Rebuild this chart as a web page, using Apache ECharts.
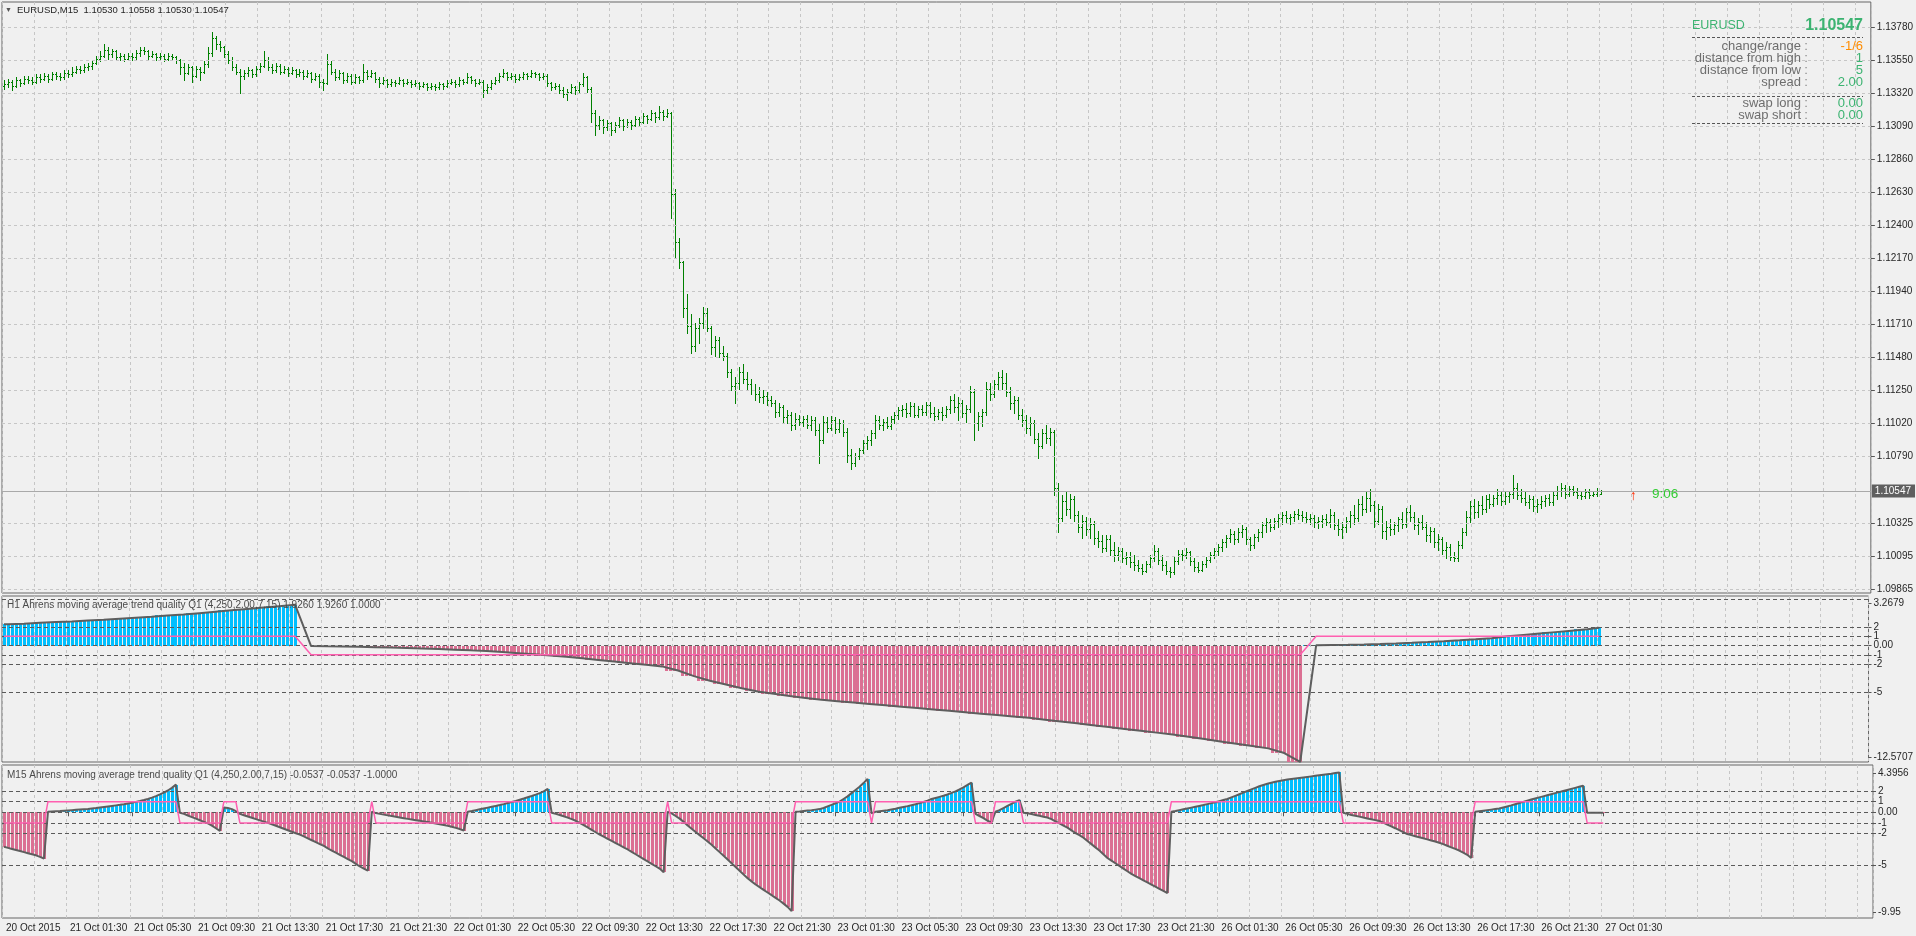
<!DOCTYPE html>
<html><head><meta charset="utf-8">
<script src="https://cdn.jsdelivr.net/npm/echarts@6/dist/echarts.min.js"></script>
<style>html,body{margin:0;padding:0;background:#f0f0f0;overflow:hidden}#c{width:1916px;height:936px}</style>
</head><body><div id="c"></div>
<script>
// ---------------- DATA ----------------
const tickLabels = ['20 Oct 2015','21 Oct 01:30','21 Oct 05:30','21 Oct 09:30','21 Oct 13:30','21 Oct 17:30','21 Oct 21:30','22 Oct 01:30','22 Oct 05:30','22 Oct 09:30','22 Oct 13:30','22 Oct 17:30','22 Oct 21:30','23 Oct 01:30','23 Oct 05:30','23 Oct 09:30','23 Oct 13:30','23 Oct 17:30','23 Oct 21:30','26 Oct 01:30','26 Oct 05:30','26 Oct 09:30','26 Oct 13:30','26 Oct 17:30','26 Oct 21:30','27 Oct 01:30'];
const priceTicks = [1.13780,1.13550,1.13320,1.13090,1.12860,1.12630,1.12400,1.12170,1.11940,1.11710,1.11480,1.11250,1.11020,1.10790,1.10325,1.10095,1.09865];

// EURUSD M15 bars: [open, high, low, close]
const ohlc = [
[1.1337,1.1341,1.1335,1.1338],[1.1338,1.1342,1.1336,1.1340],[1.1340,1.1341,1.1334,1.1337],[1.1337,1.1343,1.1336,1.1341],[1.1341,1.1342,1.1337,1.1339],[1.1339,1.1344,1.1338,1.1342],[1.1342,1.1344,1.1339,1.1341],[1.1341,1.1343,1.1338,1.1340],[1.1340,1.1345,1.1339,1.1343],[1.1343,1.1345,1.1340,1.1342],
[1.1342,1.1346,1.1341,1.1344],[1.1344,1.1345,1.1340,1.1342],[1.1342,1.1347,1.1341,1.1345],[1.1345,1.1347,1.1342,1.1344],[1.1344,1.1346,1.1341,1.1343],[1.1343,1.1348,1.1342,1.1346],[1.1346,1.1348,1.1343,1.1345],[1.1345,1.1350,1.1344,1.1347],[1.1347,1.1351,1.1346,1.1349],[1.1349,1.1351,1.1346,1.1348],
[1.1348,1.1352,1.1347,1.1350],[1.1350,1.1353,1.1348,1.1351],[1.1351,1.1355,1.1349,1.1353],[1.1353,1.1358,1.1352,1.1356],[1.1356,1.1361,1.1354,1.1358],[1.1358,1.1366,1.1357,1.1362],[1.1362,1.1364,1.1356,1.1359],[1.1359,1.1363,1.1357,1.1361],[1.1361,1.1362,1.1355,1.1357],[1.1357,1.1360,1.1355,1.1358],
[1.1358,1.1359,1.1354,1.1356],[1.1356,1.1360,1.1355,1.1358],[1.1358,1.1360,1.1355,1.1357],[1.1357,1.1362,1.1356,1.1360],[1.1360,1.1364,1.1358,1.1362],[1.1362,1.1364,1.1359,1.1361],[1.1361,1.1362,1.1356,1.1358],[1.1358,1.1361,1.1357,1.1359],[1.1359,1.1360,1.1355,1.1357],[1.1357,1.1360,1.1356,1.1358],
[1.1358,1.1359,1.1354,1.1356],[1.1356,1.1360,1.1355,1.1358],[1.1358,1.1359,1.1355,1.1357],[1.1357,1.1358,1.1353,1.1355],[1.1355,1.1356,1.1345,1.1350],[1.1350,1.1353,1.1341,1.1346],[1.1346,1.1352,1.1345,1.1350],[1.1350,1.1351,1.1340,1.1344],[1.1344,1.1351,1.1343,1.1349],[1.1349,1.1350,1.1341,1.1347],
[1.1347,1.1354,1.1346,1.1352],[1.1352,1.1364,1.1350,1.1360],[1.1360,1.13745,1.1358,1.1370],[1.1370,1.1372,1.1363,1.1366],[1.1366,1.1368,1.1361,1.1364],[1.1364,1.1365,1.1357,1.1359],[1.1359,1.1361,1.1353,1.1355],[1.1355,1.1357,1.1348,1.1350],[1.1350,1.1352,1.1345,1.1347],[1.1347,1.1349,1.1332,1.1344],
[1.1344,1.1348,1.1342,1.1346],[1.1346,1.1350,1.1344,1.1348],[1.1348,1.1349,1.1343,1.1345],[1.1345,1.1351,1.1344,1.1349],[1.1349,1.1353,1.1347,1.1351],[1.1351,1.1361,1.1350,1.1355],[1.1355,1.1357,1.1348,1.1350],[1.1350,1.1352,1.1346,1.1348],[1.1348,1.1353,1.1347,1.1351],[1.1351,1.1352,1.1345,1.1347],
[1.1347,1.1351,1.1346,1.1349],[1.1349,1.1350,1.1344,1.1346],[1.1346,1.1350,1.1345,1.1348],[1.1348,1.1349,1.1343,1.1345],[1.1345,1.1349,1.1344,1.1347],[1.1347,1.1348,1.1342,1.1344],[1.1344,1.1348,1.1343,1.1346],[1.1346,1.1347,1.1340,1.1342],[1.1342,1.1346,1.1341,1.1344],[1.1344,1.1345,1.1336,1.1340],
[1.1340,1.1342,1.1334,1.1339],[1.1339,1.1359,1.1338,1.1352],[1.1352,1.1354,1.1345,1.1347],[1.1347,1.1349,1.1341,1.1343],[1.1343,1.1348,1.1342,1.1346],[1.1346,1.1347,1.1339,1.1341],[1.1341,1.1346,1.1340,1.1344],[1.1344,1.1345,1.1338,1.1340],[1.1340,1.1345,1.1339,1.1343],[1.1343,1.1344,1.1339,1.1341],
[1.1341,1.1352,1.1340,1.1347],[1.1347,1.1348,1.1342,1.1344],[1.1344,1.1348,1.1343,1.1346],[1.1346,1.1347,1.1340,1.1342],[1.1342,1.1343,1.1336,1.1339],[1.1339,1.1343,1.1338,1.1341],[1.1341,1.1342,1.1336,1.1338],[1.1338,1.1342,1.1337,1.1340],[1.1340,1.1341,1.1337,1.1339],[1.1339,1.1343,1.1338,1.1341],
[1.1341,1.1342,1.1337,1.1339],[1.1339,1.1342,1.1338,1.1340],[1.1340,1.1341,1.1336,1.1338],[1.1338,1.1341,1.1337,1.1339],[1.1339,1.1340,1.1335,1.1337],[1.1337,1.1340,1.1336,1.1338],[1.1338,1.1339,1.1334,1.1336],[1.1336,1.1339,1.1335,1.1337],[1.1337,1.1338,1.1334,1.1336],[1.1336,1.1340,1.1335,1.1338],
[1.1338,1.1339,1.1335,1.1337],[1.1337,1.1341,1.1336,1.1339],[1.1339,1.1342,1.1338,1.1340],[1.1340,1.1341,1.1336,1.1338],[1.1338,1.1343,1.1337,1.1341],[1.1341,1.1342,1.1338,1.1340],[1.1340,1.1346,1.1339,1.1343],[1.1343,1.1344,1.1339,1.1341],[1.1341,1.1342,1.1337,1.1339],[1.1339,1.1342,1.1338,1.1340],
[1.1340,1.1341,1.1329,1.1334],[1.1334,1.1338,1.1332,1.1336],[1.1336,1.1341,1.1335,1.1339],[1.1339,1.1343,1.1338,1.1341],[1.1341,1.1346,1.1340,1.1344],[1.1344,1.1349,1.1343,1.1346],[1.1346,1.1347,1.1341,1.1343],[1.1343,1.1346,1.1342,1.1344],[1.1344,1.1345,1.1340,1.1342],[1.1342,1.1345,1.1341,1.1343],
[1.1343,1.1347,1.1342,1.1345],[1.1345,1.1346,1.1342,1.1344],[1.1344,1.1348,1.1343,1.1346],[1.1346,1.1347,1.1343,1.1345],[1.1345,1.1346,1.1341,1.1343],[1.1343,1.1346,1.1342,1.1344],[1.1344,1.1345,1.1337,1.1339],[1.1339,1.1340,1.1334,1.1336],[1.1336,1.1339,1.1335,1.1337],[1.1337,1.1338,1.1332,1.1334],
[1.1334,1.1336,1.1329,1.1331],[1.1331,1.1335,1.1327,1.1333],[1.1333,1.1338,1.1332,1.1336],[1.1336,1.1337,1.1331,1.1334],[1.1334,1.1340,1.1333,1.1338],[1.1338,1.1346,1.1337,1.1343],[1.1343,1.1344,1.1333,1.1335],[1.1335,1.1336,1.1312,1.1318],[1.1318,1.1320,1.1303,1.1310],[1.1310,1.1316,1.1307,1.1313],
[1.1313,1.1314,1.1304,1.1308],[1.1308,1.1313,1.1306,1.1311],[1.1311,1.1312,1.1303,1.1306],[1.1306,1.1312,1.1305,1.1310],[1.1310,1.1315,1.1308,1.1313],[1.1313,1.1314,1.1306,1.1309],[1.1309,1.1314,1.1308,1.1312],[1.1312,1.1313,1.1307,1.1310],[1.1310,1.1316,1.1309,1.1314],[1.1314,1.1315,1.1309,1.1312],
[1.1312,1.1318,1.1311,1.1316],[1.1316,1.1317,1.1311,1.1314],[1.1314,1.1320,1.1313,1.1318],[1.1318,1.1319,1.1312,1.1315],[1.1315,1.1323,1.1314,1.1319],[1.1319,1.1320,1.1313,1.1316],[1.1316,1.1321,1.1315,1.1318],[1.1318,1.1319,1.1245,1.1262],[1.1262,1.1265,1.1218,1.1228],[1.1228,1.1231,1.1210,1.1214],
[1.1214,1.1215,1.1176,1.1182],[1.1182,1.1192,1.1165,1.1170],[1.1170,1.1178,1.1151,1.1156],[1.1156,1.1172,1.1152,1.1168],[1.1168,1.1175,1.1158,1.1172],[1.1172,1.1183,1.1168,1.1179],[1.1179,1.1182,1.1166,1.1168],[1.1168,1.1170,1.1150,1.1155],[1.1155,1.1163,1.1149,1.1160],[1.1160,1.1162,1.1148,1.1151],
[1.1151,1.1156,1.1146,1.1149],[1.1149,1.1151,1.1134,1.1138],[1.1138,1.1140,1.1125,1.1128],[1.1128,1.1134,1.1116,1.1130],[1.1130,1.1141,1.1126,1.1138],[1.1138,1.1143,1.1130,1.1133],[1.1133,1.1138,1.1126,1.1129],[1.1129,1.1133,1.1122,1.1125],[1.1125,1.1129,1.1118,1.1122],[1.1122,1.1127,1.1117,1.1120],
[1.1120,1.1125,1.1116,1.1121],[1.1121,1.1124,1.1115,1.1118],[1.1118,1.1121,1.1114,1.1116],[1.1116,1.1118,1.1106,1.1110],[1.1110,1.1116,1.1107,1.1113],[1.1113,1.1115,1.1103,1.1106],[1.1106,1.1111,1.1102,1.1108],[1.1108,1.1110,1.1097,1.1101],[1.1101,1.1109,1.1098,1.1105],[1.1105,1.1108,1.1101,1.1103],
[1.1103,1.1107,1.1100,1.1105],[1.1105,1.1108,1.1099,1.1101],[1.1101,1.1107,1.1097,1.1104],[1.1104,1.1106,1.1094,1.1097],[1.1097,1.1102,1.1074,1.1090],[1.1090,1.1107,1.1088,1.1103],[1.1103,1.1106,1.1096,1.1099],[1.1099,1.1107,1.1097,1.1104],[1.1104,1.1106,1.1095,1.1098],[1.1098,1.1105,1.1096,1.1102],
[1.1102,1.1104,1.1093,1.1096],[1.1096,1.1099,1.1075,1.1080],[1.1080,1.1084,1.1070,1.1074],[1.1074,1.1081,1.1072,1.1079],[1.1079,1.1085,1.1077,1.1083],[1.1083,1.1090,1.1081,1.1088],[1.1088,1.1093,1.1084,1.1090],[1.1090,1.1097,1.1087,1.1095],[1.1095,1.1108,1.1092,1.1104],[1.1104,1.1107,1.1098,1.1101],
[1.1101,1.1105,1.1097,1.1103],[1.1103,1.1106,1.1099,1.1100],[1.1100,1.1107,1.1098,1.1105],[1.1105,1.1110,1.1102,1.1108],[1.1108,1.1113,1.1105,1.1111],[1.1111,1.1115,1.1107,1.1112],[1.1112,1.1116,1.1106,1.1109],[1.1109,1.1117,1.1107,1.1114],[1.1114,1.1116,1.1106,1.1108],[1.1108,1.1114,1.1106,1.1112],
[1.1112,1.1115,1.1108,1.1110],[1.1110,1.1117,1.1108,1.1115],[1.1115,1.1117,1.1106,1.1109],[1.1109,1.1113,1.1104,1.1107],[1.1107,1.1112,1.1105,1.1110],[1.1110,1.1113,1.1104,1.1108],[1.1108,1.1114,1.1106,1.1112],[1.1112,1.1121,1.1109,1.1118],[1.1118,1.1122,1.1110,1.1113],[1.1113,1.1120,1.1104,1.1116],
[1.1116,1.1118,1.1106,1.1109],[1.1109,1.1115,1.1103,1.1112],[1.1112,1.1128,1.1110,1.1124],[1.1124,1.1126,1.1090,1.1102],[1.1102,1.1110,1.1097,1.1107],[1.1107,1.1112,1.1100,1.1110],[1.1110,1.1131,1.1108,1.1126],[1.1126,1.1130,1.1118,1.1122],[1.1122,1.1132,1.1120,1.1129],[1.1129,1.1138,1.1125,1.1134],
[1.1134,1.1139,1.1126,1.1130],[1.1130,1.1137,1.1121,1.1124],[1.1124,1.1127,1.1112,1.1116],[1.1116,1.1121,1.1109,1.1118],[1.1118,1.1120,1.1105,1.1108],[1.1108,1.1112,1.1100,1.1104],[1.1104,1.1108,1.1095,1.1099],[1.1099,1.1106,1.1094,1.1102],[1.1102,1.1104,1.1088,1.1091],[1.1091,1.1095,1.1078,1.1086],
[1.1086,1.1098,1.1085,1.1095],[1.1095,1.1101,1.1088,1.1092],[1.1092,1.1099,1.1087,1.1096],[1.1096,1.1097,1.1052,1.1057],[1.1057,1.1060,1.1026,1.1036],[1.1036,1.1052,1.1034,1.1048],[1.1048,1.1054,1.1038,1.1042],[1.1042,1.1053,1.1036,1.1049],[1.1049,1.1051,1.1034,1.1038],[1.1038,1.1041,1.1026,1.1030],
[1.1030,1.1038,1.1022,1.1034],[1.1034,1.1037,1.1024,1.1028],[1.1028,1.1036,1.1022,1.1032],[1.1032,1.1034,1.1018,1.1022],[1.1022,1.1027,1.1016,1.1020],[1.1020,1.1024,1.1012,1.1015],[1.1015,1.1024,1.1013,1.1021],[1.1021,1.1024,1.1010,1.1014],[1.1014,1.1019,1.1006,1.1010],[1.1010,1.1016,1.1007,1.1013],
[1.1013,1.1015,1.1005,1.1008],[1.1008,1.1012,1.1004,1.1009],[1.1009,1.1012,1.1002,1.1005],[1.1005,1.1010,1.1000,1.1003],[1.1003,1.1007,1.0999,1.1001],[1.1001,1.1004,1.0997,1.0999],[1.0999,1.1006,1.0998,1.1004],[1.1004,1.1010,1.1002,1.1008],[1.1008,1.1017,1.1006,1.1013],[1.1013,1.1015,1.1004,1.1007],
[1.1007,1.1010,1.1000,1.1003],[1.1003,1.1006,1.0997,1.0999],[1.0999,1.1002,1.0995,1.0998],[1.0998,1.1009,1.0997,1.1006],[1.1006,1.1014,1.1004,1.1011],[1.1011,1.1014,1.1007,1.1010],[1.1010,1.1015,1.1008,1.1012],[1.1012,1.1013,1.1003,1.1006],[1.1006,1.1008,1.0999,1.1002],[1.1002,1.1005,1.0998,1.1000],
[1.1000,1.1006,1.0999,1.1004],[1.1004,1.1009,1.1002,1.1007],[1.1007,1.1012,1.1005,1.1010],[1.1010,1.1015,1.1008,1.1013],[1.1013,1.1018,1.1010,1.1016],[1.1016,1.1021,1.1013,1.1019],[1.1019,1.1024,1.1016,1.1022],[1.1022,1.1028,1.1019,1.1025],[1.1025,1.1027,1.1018,1.1021],[1.1021,1.1029,1.1019,1.1026],
[1.1026,1.1031,1.1023,1.1028],[1.1028,1.1030,1.1018,1.1021],[1.1021,1.1023,1.1014,1.1017],[1.1017,1.1025,1.1015,1.1023],[1.1023,1.1028,1.1020,1.1026],[1.1026,1.1033,1.1023,1.1031],[1.1031,1.1036,1.1026,1.1033],[1.1033,1.1035,1.1027,1.1030],[1.1030,1.1036,1.1028,1.1034],[1.1034,1.1039,1.1030,1.1036],
[1.1036,1.1040,1.1032,1.1038],[1.1038,1.1041,1.1033,1.1036],[1.1036,1.1039,1.1032,1.1037],[1.1037,1.1041,1.1034,1.1039],[1.1039,1.1042,1.1035,1.1038],[1.1038,1.1041,1.1034,1.1037],[1.1037,1.1040,1.1033,1.1035],[1.1035,1.1039,1.1032,1.1036],[1.1036,1.1038,1.1030,1.1033],[1.1033,1.1037,1.1029,1.1034],
[1.1034,1.1038,1.1030,1.1035],[1.1035,1.1039,1.1031,1.1033],[1.1033,1.1042,1.1030,1.1038],[1.1038,1.1040,1.1028,1.1031],[1.1031,1.1035,1.1024,1.1028],[1.1028,1.1033,1.1022,1.1030],[1.1030,1.1037,1.1026,1.1034],[1.1034,1.1041,1.1030,1.1038],[1.1038,1.1045,1.1032,1.1036],[1.1036,1.1049,1.1034,1.1046],
[1.1046,1.1051,1.1038,1.1042],[1.1042,1.1054,1.1040,1.1050],[1.1050,1.1056,1.1041,1.1045],[1.1045,1.1048,1.1030,1.1034],[1.1034,1.1046,1.1032,1.1042],[1.1042,1.1044,1.1022,1.1027],[1.1027,1.1034,1.1021,1.1030],[1.1030,1.1035,1.1024,1.1028],[1.1028,1.1033,1.1025,1.1031],[1.1031,1.1037,1.1027,1.1035],
[1.1035,1.1040,1.1029,1.1032],[1.1032,1.1043,1.1030,1.1040],[1.1040,1.1045,1.1034,1.1037],[1.1037,1.1040,1.1028,1.1031],[1.1031,1.1036,1.1025,1.1033],[1.1033,1.1038,1.1028,1.1030],[1.1030,1.1033,1.1020,1.1024],[1.1024,1.1030,1.1019,1.1027],[1.1027,1.1029,1.1016,1.1019],[1.1019,1.1025,1.1014,1.1021],
[1.1021,1.1023,1.1011,1.1014],[1.1014,1.1019,1.1008,1.1016],[1.1016,1.1018,1.1007,1.1009],[1.1009,1.1012,1.1006,1.1008],[1.1008,1.1020,1.1006,1.1017],[1.1017,1.1029,1.1015,1.1026],[1.1026,1.1041,1.1024,1.1037],[1.1037,1.1048,1.1033,1.1044],[1.1044,1.1049,1.1036,1.1040],[1.1040,1.1048,1.1037,1.1045],
[1.1045,1.1051,1.1039,1.1042],[1.1042,1.1052,1.1040,1.1049],[1.1049,1.1053,1.1043,1.1046],[1.1046,1.1052,1.1044,1.1050],[1.1050,1.1056,1.1046,1.1052],[1.1052,1.1055,1.1045,1.1048],[1.1048,1.1054,1.1046,1.1051],[1.1051,1.1055,1.1047,1.1053],[1.1053,1.1066,1.1050,1.1057],[1.1057,1.1060,1.1049,1.1052],
[1.1052,1.1056,1.1047,1.1050],[1.1050,1.1054,1.1045,1.1047],[1.1047,1.1052,1.1043,1.1049],[1.1049,1.1051,1.1041,1.1044],[1.1044,1.1049,1.1040,1.1046],[1.1046,1.1051,1.1043,1.1048],[1.1048,1.1052,1.1044,1.1050],[1.1050,1.1053,1.1045,1.1047],[1.1047,1.1054,1.1045,1.1052],[1.1052,1.1058,1.1049,1.1055],
[1.1055,1.1060,1.1051,1.1057],[1.1057,1.1059,1.1050,1.1053],[1.1053,1.1058,1.1051,1.1056],[1.1056,1.1058,1.1052,1.1054],[1.1054,1.1057,1.1050,1.1052],[1.1052,1.1055,1.1049,1.1051],[1.1051,1.1056,1.1050,1.1054],[1.1054,1.1056,1.1050,1.1052],[1.1052,1.1055,1.1051,1.1053],[1.1053,1.1057,1.1051,1.1055],
[1.10530,1.10558,1.10530,1.10547]
];

// H1 Ahrens trend quality: one value per H1 bar (first hour only half covered)
const h1Hourly = [2.3,2.35,2.45,2.55,2.6,2.7,2.78,2.9,3.0,3.1,3.25,3.35,3.5,3.65,3.8,3.95,4.1,4.25,4.4,
-0.05,-0.08,-0.1,-0.13,-0.17,-0.22,-0.27,-0.32,-0.38,-0.45,-0.52,-0.6,-0.7,-0.82,-0.95,-1.08,-1.22,-1.38,-1.55,-1.72,
-1.9,-2.08,-2.25,-2.7,-3.3,-3.8,-4.2,-4.6,-4.95,-5.2,-5.45,-5.65,-5.85,-6.0,-6.15,-6.3,-6.45,-6.6,-6.75,-6.9,
-7.05,-7.2,-7.35,-7.5,-7.65,-7.8,-8.0,-8.2,-8.4,-8.6,-8.8,-9.0,-9.2,-9.4,-9.6,-9.85,-10.1,-10.35,-10.6,-10.85,
-11.1,-11.6,-12.57,
0.02,0.05,0.08,0.12,0.17,0.23,0.3,0.38,0.47,0.57,0.68,0.8,1.0,1.15,1.3,1.45,1.6,1.75,1.926];
const h1TrendRuns = [[1,19],[-1,63],[1,19]];   // [state, number of H1 bars]

// M15 Ahrens trend quality: one value per M15 bar
const m15Vals = [
-3.25,-3.35,-3.45,-3.55,-3.65,-3.75,-3.85,-3.95,-4.05,-4.2,-4.35,
0.05,0.07,0.09,0.11,0.14,0.17,0.2,0.23,0.26,0.29,0.32,0.36,0.4,0.45,0.5,0.55,0.6,0.65,0.7,0.76,0.83,0.9,0.98,1.06,1.15,1.25,1.38,1.52,1.68,1.85,2.05,2.3,2.6,
-0.05,-0.15,-0.3,-0.45,-0.6,-0.75,-0.9,-1.05,-1.25,-1.5,-1.75,
0.45,0.4,0.3,0.1,
-0.15,-0.28,-0.4,-0.52,-0.64,-0.76,-0.88,-1.0,-1.13,-1.27,-1.41,-1.55,-1.69,-1.83,-1.97,-2.1,-2.27,-2.45,-2.63,-2.81,-2.99,-3.17,-3.4,-3.6,-3.8,-4.0,-4.2,-4.4,-4.6,-4.85,-5.1,-5.3,-5.5,
0.05,
-0.08,-0.15,-0.22,-0.29,-0.36,-0.43,-0.5,-0.56,-0.62,-0.68,-0.74,-0.8,-0.86,-0.92,-0.98,-1.05,-1.12,-1.2,-1.28,-1.37,-1.47,-1.58,-1.72,
0.05,0.12,0.2,0.28,0.36,0.44,0.52,0.6,0.68,0.77,0.87,0.97,1.07,1.18,1.29,1.41,1.53,1.66,1.8,1.97,2.2,
-0.05,-0.15,-0.25,-0.38,-0.5,-0.65,-0.8,-1.0,-1.2,-1.42,-1.65,-1.88,-2.1,-2.3,-2.5,-2.7,-2.9,-3.1,-3.3,-3.5,-3.72,-3.95,-4.18,-4.4,-4.62,-4.85,-5.08,-5.3,-5.65,
0.05,
-0.1,-0.35,-0.6,-0.9,-1.25,-1.55,-1.85,-2.15,-2.45,-2.75,-3.05,-3.4,-3.75,-4.1,-4.45,-4.8,-5.15,-5.5,-5.85,-6.2,-6.5,-6.8,-7.05,-7.3,-7.55,-7.8,-8.05,-8.3,-8.6,-8.9,-9.3,
0.05,0.08,0.12,0.16,0.2,0.25,0.3,0.4,0.55,0.7,0.85,1.0,1.25,1.5,1.8,2.1,2.4,2.75,3.15,
-0.1,
0.05,0.1,0.15,0.2,0.27,0.34,0.42,0.5,0.58,0.67,0.76,0.86,0.97,1.1,1.25,1.35,1.45,1.55,1.68,1.82,1.97,2.15,2.35,2.57,2.8,
-0.15,-0.35,-0.55,-0.8,-0.95,
0.05,0.2,0.4,0.6,0.8,1.0,1.15,
-0.05,-0.1,-0.17,-0.25,-0.33,-0.42,-0.5,-0.65,-0.85,-1.05,-1.25,-1.45,-1.7,-1.95,-2.15,-2.4,-2.7,-3.0,-3.3,-3.6,-3.95,-4.3,-4.55,-4.8,-5.05,-5.3,-5.55,-5.8,-6.0,-6.2,-6.4,-6.6,-6.8,-7.0,-7.2,-7.4,-7.6,
0.05,0.12,0.2,0.28,0.36,0.44,0.52,0.6,0.68,0.77,0.86,0.95,1.05,1.15,1.25,1.4,1.55,1.7,1.85,2.0,2.15,2.3,2.45,2.57,2.68,2.78,2.87,2.95,3.02,3.08,3.13,3.18,3.23,3.28,3.33,3.38,3.43,3.48,3.53,3.58,3.63,3.69,3.75,
-0.05,-0.15,-0.25,-0.33,-0.41,-0.5,-0.58,-0.66,-0.74,-0.82,-0.98,-1.15,-1.33,-1.5,-1.68,-1.86,-2.05,-2.15,-2.25,-2.35,-2.45,-2.55,-2.65,-2.75,-2.87,-3.0,-3.15,-3.3,-3.45,-3.6,-3.8,-4.0,-4.3,
0.05,0.1,0.15,0.2,0.25,0.3,0.35,0.45,0.55,0.65,0.76,0.87,0.98,1.1,1.2,1.3,1.4,1.5,1.6,1.7,1.8,1.9,2.0,2.1,2.2,2.3,2.4,2.5,
-0.05,-0.05,-0.05,-0.0537,-0.0537];
const m15TrendRuns = [[-1,11],[1,33],[-1,11],[1,4],[-1,33],[1,1],[-1,23],[1,21],[-1,29],[1,1],[-1,31],[1,19],[-1,1],[1,25],[-1,5],[1,7],[-1,37],[1,43],[-1,33],[1,28],[-1,5]];

const h1Levels = [5,2,1,0,-1,-2,-5];
const m15Levels = [2,1,0,-1,-2,-5];
const h1AxisText = ['3.2679','2','1','0.00','-1','-2','-5','-12.5707'];
const m15AxisText = ['4.3956','2','1','0.00','-1','-2','-5','-9.95'];
const infoLabels = ['change/range','distance from high','distance from low','spread','swap long','swap short'];
const infoValues = ['-1/6','1','5','2.00','0.00','0.00'];
const timerText = '9:06';

// ---------------- LAYOUT / STYLE ----------------
const FONT = "'Liberation Sans', Arial, sans-serif";
const PLOT_LEFT = 2, PLOT_WIDTH = 1871;
const PANELS = [{top:2,height:591},{top:596,height:166},{top:765,height:153}];
const SLOT_COUNT = 468;          // bars + empty right shift area
const LABEL_STEP = 16, GRID_STEP = 8;
const FIRST_HOUR_BARS = 2, BARS_PER_HOUR = 4;
const Y_RANGES = [[1.098371, 1.139542], [-12.5707, 5.35], [-9.95, 4.45]];
const BAR_COLOR = '#008000', UP_COLOR = '#00bfff', DN_COLOR = '#db7093', TREND_COLOR = '#ff5fb0', VALUE_COLOR = '#5e5e5e';
const AXIS_FS = 10, AXIS_COLOR = '#262626';

function expandRuns(runs){ const out=[]; runs.forEach(([v,n])=>{ for(let k=0;k<n;k++) out.push(v); }); return out; }
const hourOf = i => i < FIRST_HOUR_BARS ? 0 : Math.floor((i - FIRST_HOUR_BARS) / BARS_PER_HOUR) + 1;
const lastIdx = ohlc.length - 1;
const isHourEnd = i => i === 0 || i === lastIdx || hourOf(i + 1) !== hourOf(i);
const h1TrendHourly = expandRuns(h1TrendRuns);
// histogram: every M15 bar shows the value of its H1 bar
const h1Vals = ohlc.map((_, i) => h1Hourly[hourOf(i)]);
const h1Trend = ohlc.map((_, i) => h1TrendHourly[hourOf(i)]);
// lines: one point per H1 bar (at its last M15 bar), joined by the line series
const h1LinePts = ohlc.map((_, i) => isHourEnd(i) ? h1Hourly[hourOf(i)] : null);
const h1TrendPts = ohlc.map((_, i) => isHourEnd(i) ? h1TrendHourly[hourOf(i)] : null);
const m15Trend = expandRuns(m15TrendRuns);
const lastClose = ohlc[lastIdx][3];
const slots = Array.from({length: SLOT_COUNT}, (_, i) => String(i));

function edgeLabels(range, height, texts, levelVals, topPx, botPx){
  const ppu = height / (range[1] - range[0]);
  const vals = [range[1] - topPx / ppu].concat(levelVals, [range[0] + botPx / ppu]);
  return {vals, texts};
}
const h1Lab = edgeLabels(Y_RANGES[1], PANELS[1].height, h1AxisText, [2,1,0,-1,-2,-5], 7, 5);
const m15Lab = edgeLabels(Y_RANGES[2], PANELS[2].height, m15AxisText, [2,1,0,-1,-2,-5], 8, 6);

function nearestText(lab, v){
  let best = 0, bd = Infinity;
  lab.vals.forEach((x, k) => { const d = Math.abs(x - v); if (d < bd) { bd = d; best = k; } });
  return lab.texts[best];
}

const labelIdx = (idx) => idx % LABEL_STEP === 0 && idx / LABEL_STEP < tickLabels.length;
const gridIdx = (idx) => idx % GRID_STEP === 0;

const grids = PANELS.map(p => ({left: PLOT_LEFT, top: p.top, width: PLOT_WIDTH, height: p.height, show: true, borderColor: '#666', borderWidth: 1, backgroundColor: 'transparent', containLabel: false}));

const xAxes = PANELS.map((p, gi) => ({
  type: 'category', gridIndex: gi, data: slots, boundaryGap: true,
  axisLine: {show: false},
  axisTick: gi === 2 ? {show: true, alignWithLabel: true, interval: labelIdx, length: 4, lineStyle: {color: '#555'}} : {show: false},
  axisLabel: gi === 2 ? {show: true, interval: labelIdx, formatter: (v, idx) => tickLabels[Math.round(idx / LABEL_STEP)], align: 'left', margin: 5, fontSize: AXIS_FS, color: AXIS_COLOR, fontFamily: FONT, padding: [0,0,0,2]} : {show: false},
  splitLine: {show: true, interval: gridIdx, lineStyle: {color: '#c6c6c6', type: [3, 3], width: 1}}
}));

const yCommon = {position: 'right', axisLine: {show: false}, splitLine: {show: false}, scale: true};
const yAxes = [
  Object.assign({}, yCommon, {type: 'value', gridIndex: 0, min: Y_RANGES[0][0], max: Y_RANGES[0][1],
    axisTick: {show: true, length: 4, customValues: priceTicks, lineStyle: {color: '#555'}},
    axisLabel: {customValues: priceTicks, formatter: v => v.toFixed(5), margin: 6, fontSize: AXIS_FS, color: AXIS_COLOR, fontFamily: FONT}}),
  Object.assign({}, yCommon, {type: 'value', gridIndex: 1, min: Y_RANGES[1][0], max: Y_RANGES[1][1],
    axisTick: {show: true, length: 3, customValues: h1Lab.vals, lineStyle: {color: '#555'}},
    axisLabel: {customValues: h1Lab.vals, formatter: v => nearestText(h1Lab, v), margin: 5, fontSize: AXIS_FS, color: AXIS_COLOR, fontFamily: FONT}}),
  Object.assign({}, yCommon, {type: 'value', gridIndex: 2, min: Y_RANGES[2][0], max: Y_RANGES[2][1],
    axisTick: {show: true, length: 3, customValues: m15Lab.vals, lineStyle: {color: '#555'}},
    axisLabel: {customValues: m15Lab.vals, formatter: v => nearestText(m15Lab, v), margin: 5, fontSize: AXIS_FS, color: AXIS_COLOR, fontFamily: FONT}})
];

function renderBar(params, api){
  const i = api.value(0);
  const po = api.coord([i, api.value(1)]), ph = api.coord([i, api.value(2)]);
  const pl = api.coord([i, api.value(3)]), pc = api.coord([i, api.value(4)]);
  const x = Math.round(po[0]);
  const yo = Math.round(po[1]) + 0.5, yc = Math.round(pc[1]) + 0.5;
  const st = {stroke: BAR_COLOR, lineWidth: 1};
  return {type: 'group', children: [
    {type: 'line', shape: {x1: x + 0.5, y1: Math.round(ph[1]), x2: x + 0.5, y2: Math.round(pl[1]) + 1}, style: st},
    {type: 'line', shape: {x1: x - 1, y1: yo, x2: x, y2: yo}, style: st},
    {type: 'line', shape: {x1: x + 1, y1: yc, x2: x + 2, y2: yc}, style: st}
  ]};
}
function renderHist(params, api){
  const i = api.value(0), v = api.value(1), t = api.value(2);
  const p0 = api.coord([i, 0]), p1 = api.coord([i, v]);
  const x = Math.round(p0[0]) - 1;
  const y0 = Math.round(p0[1]), y1 = Math.round(p1[1]);
  return {type: 'rect', shape: {x: x, y: Math.min(y0, y1), width: 3, height: Math.abs(y1 - y0)}, style: {fill: t > 0 ? UP_COLOR : DN_COLOR}};
}

function indicatorSeries(gi, histVals, trend, linePts, trendPts, levels){
  return [
    {type: 'custom', xAxisIndex: gi, yAxisIndex: gi, renderItem: renderHist, clip: true, silent: true, z: 2,
     data: histVals.map((v, i) => [i, v, trend[i]]), encode: {x: 0, y: 1}},
    {type: 'line', xAxisIndex: gi, yAxisIndex: gi, data: linePts, connectNulls: true, showSymbol: false, symbol: 'none', silent: true, z: 4,
     lineStyle: {color: VALUE_COLOR, width: 2},
     markLine: {silent: true, symbol: 'none', animation: false, precision: 4, label: {show: false},
       lineStyle: {color: '#5a5a5a', type: [4, 3], width: 1},
       data: levels.map(v => ({yAxis: v}))}},
    {type: 'line', xAxisIndex: gi, yAxisIndex: gi, data: trendPts, connectNulls: true, showSymbol: false, symbol: 'none', silent: true, z: 5,
     lineStyle: {color: TREND_COLOR, width: 1.5}}
  ];
}

const series = [
  {type: 'line', xAxisIndex: 0, yAxisIndex: 0, data: ohlc.map(r => r[3]), showSymbol: false, symbol: 'none', silent: true, z: 1,
   lineStyle: {opacity: 0, width: 0},
   markLine: {silent: true, symbol: 'none', animation: false, precision: 6,
     data: priceTicks.map(v => ({yAxis: v, label: {show: false}, lineStyle: {color: '#c6c6c6', type: [3, 3], width: 1}}))
       .concat([{yAxis: lastClose, lineStyle: {color: '#a9a9a9', type: 'solid', width: 1},
         label: {show: true, position: 'end', distance: 1, formatter: lastClose.toFixed(5), color: '#fff', backgroundColor: '#5f5f5f',
           padding: [2, 4, 1, 3], fontSize: AXIS_FS, fontFamily: FONT}}])},
   markPoint: {silent: true, animation: false, symbol: 'circle', symbolSize: 1, itemStyle: {color: 'rgba(0,0,0,0)'},
     data: [
       {coord: [lastIdx + 8, lastClose], label: {show: true, position: 'inside', formatter: '\u2191', color: '#ff2a00', fontSize: 14, fontWeight: 'bold', fontFamily: FONT, offset: [0, 5]}},
       {coord: [lastIdx + 16, lastClose], label: {show: true, position: 'inside', formatter: timerText, color: '#33cc33', fontSize: 13.5, fontFamily: FONT, offset: [0, 3]}}
     ]}},
  {type: 'custom', xAxisIndex: 0, yAxisIndex: 0, renderItem: renderBar, clip: true, silent: true, z: 3,
   data: ohlc.map((r, i) => [i, r[0], r[1], r[2], r[3]]), encode: {x: 0, y: [1, 2, 3, 4]}}
].concat(indicatorSeries(1, h1Vals, h1Trend, h1LinePts, h1TrendPts, h1Levels),
         indicatorSeries(2, m15Vals, m15Trend, m15Vals, m15Trend, m15Levels));

// ---------------- TEXT OVERLAYS ----------------
function txt(x, y, text, opt){
  const o = Object.assign({font: '10px ' + FONT, fill: '#333', align: 'left', vAlign: 'middle'}, opt || {});
  return {type: 'text', x: x, y: y, silent: true, z: 100,
    style: {text: text, font: o.font, fill: o.fill, align: o.align, textAlign: o.align, verticalAlign: o.vAlign, textVerticalAlign: o.vAlign}};
}
function dash(x1, x2, y){
  return {type: 'line', silent: true, z: 100, shape: {x1: x1, y1: y + 0.5, x2: x2, y2: y + 0.5}, style: {stroke: '#555', lineWidth: 1, lineDash: [3, 2]}};
}
const INFO_L = 1692, INFO_R = 1863, INFO_COLON = 1806;
const infoRowsY = [46, 58, 70, 82, 103, 115];
const infoValColors = ['#ff8c00', '#3cb371', '#3cb371', '#3cb371', '#3cb371', '#3cb371'];
const graphics = [
  txt(5, 10, '\u25BC', {font: '7px ' + FONT, fill: '#555'}),
  txt(17, 10, 'EURUSD,M15  1.10530 1.10558 1.10530 1.10547', {font: '9.5px ' + FONT, fill: '#262626'}),
  txt(7, 605, 'H1 Ahrens moving average trend quality Q1 (4,250,2.00,7,15) 1.9260 1.9260 1.0000', {fill: '#4a4a4a'}),
  txt(7, 775, 'M15 Ahrens moving average trend quality Q1 (4,250,2.00,7,15) -0.0537 -0.0537 -1.0000', {fill: '#4a4a4a'}),
  txt(INFO_L, 26, 'EURUSD', {font: '12.5px ' + FONT, fill: '#3cb371'}),
  txt(INFO_R, 26, lastClose.toFixed(5), {font: 'bold 16px ' + FONT, fill: '#3cb371', align: 'right'}),
  dash(INFO_L, INFO_R, 37), dash(INFO_L, INFO_R, 96), dash(INFO_L, INFO_R, 123)
];
infoLabels.forEach((l, k) => {
  graphics.push(txt(INFO_COLON - 5, infoRowsY[k], l, {font: '13px ' + FONT, fill: '#6e6e6e', align: 'right'}));
  graphics.push(txt(INFO_COLON, infoRowsY[k], ':', {font: '13px ' + FONT, fill: '#8a8a8a', align: 'center'}));
  graphics.push(txt(INFO_R, infoRowsY[k], infoValues[k], {font: '13px ' + FONT, fill: infoValColors[k], align: 'right'}));
});

const chart = echarts.init(document.getElementById('c'), null, {renderer: 'canvas', width: 1916, height: 936});
chart.setOption({
  backgroundColor: '#f0f0f0', animation: false,
  textStyle: {fontFamily: FONT},
  grid: grids, xAxis: xAxes, yAxis: yAxes, series: series, graphic: graphics
});
</script></body></html>
